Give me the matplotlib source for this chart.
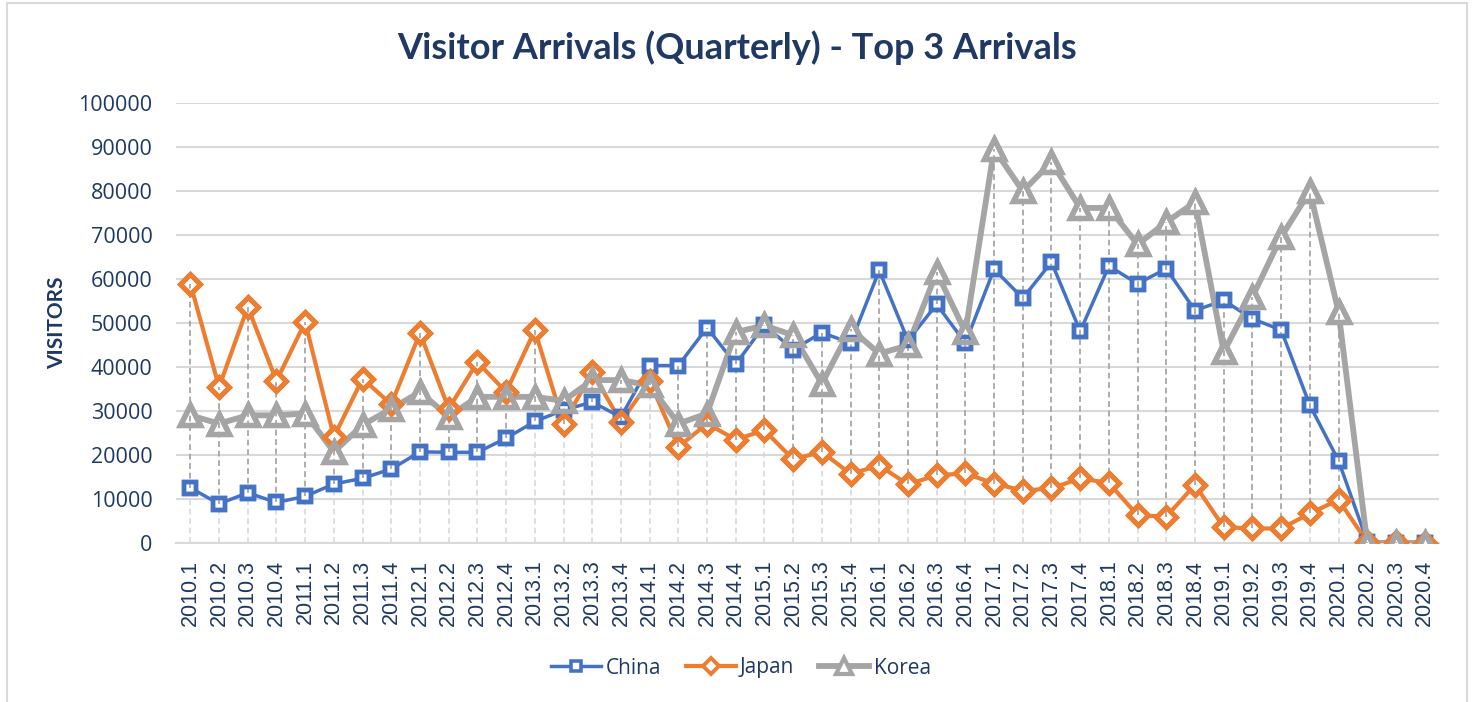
import matplotlib
matplotlib.use("Agg")
import matplotlib.pyplot as plt
import numpy as np
from matplotlib.patches import Rectangle
from matplotlib.lines import Line2D

quarters = ["2010.1", "2010.2", "2010.3", "2010.4", "2011.1", "2011.2", "2011.3", "2011.4",
            "2012.1", "2012.2", "2012.3", "2012.4", "2013.1", "2013.2", "2013.3", "2013.4",
            "2014.1", "2014.2", "2014.3", "2014.4", "2015.1", "2015.2", "2015.3", "2015.4",
            "2016.1", "2016.2", "2016.3", "2016.4", "2017.1", "2017.2", "2017.3", "2017.4",
            "2018.1", "2018.2", "2018.3", "2018.4", "2019.1", "2019.2", "2019.3", "2019.4",
            "2020.1", "2020.2", "2020.3", "2020.4"]

china = [12500, 8900, 11400, 9200, 10600, 13400, 14700, 16800,
         20700, 20600, 20600, 23800, 27600, 30200, 32000, 28600,
         40300, 40300, 48900, 40600, 49500, 43900, 47800, 45400,
         61900, 46000, 54200, 45400, 62200, 55600, 63800, 48100,
         62900, 58900, 62300, 52800, 55100, 50900, 48400, 31300,
         18700, 300, 100, 100]

japan = [58900, 35400, 53600, 36800, 50200, 24100, 37300, 31500,
         47700, 30500, 41100, 34300, 48300, 27100, 38800, 27500,
         36800, 21800, 27100, 23500, 25600, 19000, 20700, 15700,
         17600, 13300, 15400, 15800, 13500, 11900, 12400, 14700,
         13600, 6300, 6000, 13200, 3600, 3300, 3300, 6700,
         9800, 200, 200, 100]

korea = [29000, 27100, 29000, 29000, 29400, 20700, 26800, 30500,
         34300, 28700, 33200, 33200, 33200, 32300, 37000, 37000,
         35800, 27100, 29400, 47900, 49400, 47200, 36200, 48700,
         43000, 44900, 61500, 47900, 89500, 79900, 86500, 76100,
         76100, 67800, 72900, 77400, 43400, 55900, 69500, 79900,
         52500, 0, 0, 0]

series_names = ["China", "Japan", "Korea"]
y_ticks = [0, 10000, 20000, 30000, 40000, 50000, 60000, 70000, 80000, 90000, 100000]

W, H = 1472, 702
fig = plt.figure(figsize=(W / 100, H / 100), dpi=100)
navy = "#1F3864"

# outer chart frame
fig.patches.append(Rectangle((7 / W, -0.05), (1467 - 7) / W, 1 - 3 / H + 0.05,
                             transform=fig.transFigure, fill=False,
                             edgecolor="#D9D9D9", linewidth=1.5, zorder=0))

ax = fig.add_axes([176 / W, 1 - 543 / H, (1439 - 176) / W, (543 - 102.7) / H])
x = np.arange(len(quarters))
data = np.array([china, japan, korea], dtype=float)
hi = data.max(axis=0)
lo = data.min(axis=0)

dash = (0, (3.5, 2.2))
# drop lines (light) and high-low lines (dark)
ax.vlines(x, 0, lo, colors="#D9D9D9", linestyles=dash, linewidth=1.2, zorder=1)
ax.vlines(x, lo, hi, colors="#A0A0A0", linestyles=dash, linewidth=1.2, zorder=5.5)

styles = [
    dict(color="#4472C4", marker="s", ms=9, mew=3.2, lw=2.5),
    dict(color="#ED7D31", marker="D", ms=10, mew=3.5, lw=3.0),
    dict(color="#A5A5A5", marker="^", ms=14, mew=3.8, lw=4.2),
]
for i, (vals, st) in enumerate(zip([china, japan, korea], styles)):
    ax.plot(x, vals, color=st["color"], lw=st["lw"], marker=st["marker"],
            markersize=st["ms"], markeredgewidth=st["mew"],
            markerfacecolor="white", markeredgecolor=st["color"],
            solid_joinstyle="round", zorder=3 + i)
    # marker outlines drawn above the high-low lines
    ax.plot(x, vals, linestyle="none", marker=st["marker"],
            markersize=st["ms"], markeredgewidth=st["mew"],
            markerfacecolor="none", markeredgecolor=st["color"],
            zorder=6 + 0.1 * i)

ax.set_xlim(-0.5, len(quarters) - 0.5)
ax.set_ylim(0, 100000)
ax.set_yticks(y_ticks)
ax.set_yticklabels([str(v) for v in y_ticks], fontsize=15.5, color=navy,
                   family=["Open Sans", "DejaVu Sans"])
ax.set_xticks(x)
ax.set_xticklabels(quarters, rotation=90, fontsize=15.5, color=navy,
                   family=["Liberation Sans", "DejaVu Sans"])
ax.tick_params(axis="y", length=0, pad=17)
ax.tick_params(axis="x", length=0, pad=12)
ax.grid(axis="y", color="#D9D9D9", linewidth=1.5, zorder=0)
ax.set_axisbelow(True)
for s in ["top", "right", "left"]:
    ax.spines[s].set_visible(False)
ax.spines["bottom"].set_color("#D9D9D9")
ax.spines["bottom"].set_linewidth(1.5)

fig.text(57 / W, 1 - 323 / H, "VISITORS", rotation=90, ha="center", va="center",
         fontsize=15, fontweight="bold", color=navy, family=["Lato", "DejaVu Sans"])

fig.text(737 / W, 1 - 48 / H, "Visitor Arrivals (Quarterly) - Top 3 Arrivals",
         ha="center", va="center", fontsize=26, fontweight="bold", color=navy,
         family=["Lato", "DejaVu Sans"])

handles = [Line2D([], [], color=st["color"], lw=st["lw"], marker=st["marker"],
                  markersize=st["ms"] * 0.8, markeredgewidth=st["mew"] * 0.8,
                  markerfacecolor="white", markeredgecolor=st["color"])
           for st in styles]
fig.legend(handles, series_names, loc="center", bbox_to_anchor=(741 / W, 1 - 668 / H),
           ncol=3, frameon=False, handlelength=2.4, handletextpad=0.2,
           columnspacing=1.2, prop=dict(family=["Open Sans", "DejaVu Sans"], size=15),
           labelcolor=navy)

fig.savefig("out.png", dpi=100)
